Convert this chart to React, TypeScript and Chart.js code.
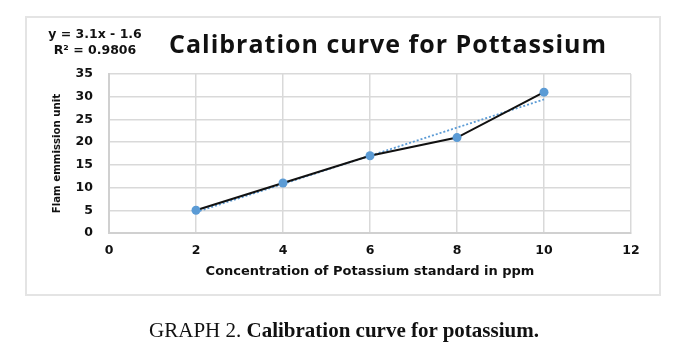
import React, { useEffect, useRef } from "react";
import { Chart, registerables } from "chart.js";

Chart.register(...registerables);

const concentrations = [2, 4, 6, 8, 10];
const emission = [5, 11, 17, 21, 31];
const trendSlope = 3.1;
const trendIntercept = -1.6;
const trendRange = [2, 10];
const xTicks = { min: 0, max: 12, step: 2 };
const yTicks = { min: 0, max: 35, step: 5 };

const chartTitle = "Calibration curve for Pottassium";
const equationText = "y = 3.1x - 1.6";
const r2Text = "R² = 0.9806";
const xTitle = "Concentration of Potassium standard in ppm";
const yTitle = "Flam emmission unit";

const TICK_FONT = "'DejaVu Sans', Verdana, sans-serif";

export default function App() {
  const ref = useRef<HTMLCanvasElement | null>(null);

  useEffect(() => {
    if (!ref.current) return;
    const points = concentrations.map((x, i) => ({ x, y: emission[i] }));
    const trend = trendRange.map((x) => ({ x, y: trendSlope * x + trendIntercept }));
    const chart = new Chart(ref.current, {
      type: "scatter",
      data: {
        datasets: [
          {
            data: points,
            showLine: true,
            borderColor: "#111111",
            borderWidth: 2,
            pointBackgroundColor: "#5b9bd5",
            pointBorderColor: "#5b9bd5",
            pointRadius: 4.5,
            pointBorderWidth: 0,
          },
          {
            data: trend,
            showLine: true,
            borderColor: "#5b9bd5",
            borderWidth: 1.8,
            borderDash: [2, 2],
            pointRadius: 0,
          },
        ],
      },
      options: {
        responsive: false,
        animation: false,
        layout: { padding: { left: 0, top: 74, right: 57, bottom: 73 } },
        plugins: { legend: { display: false }, tooltip: { enabled: false } },
        scales: {
          x: {
            type: "linear",
            min: xTicks.min,
            max: xTicks.max,
            afterFit: (s: any) => {
              s.height = 57;
            },
            ticks: {
              stepSize: xTicks.step,
              padding: 10,
              color: "#111",
              font: { family: TICK_FONT, size: 12.5, weight: "bold" },
            },
            grid: { color: "#d9d9d9", lineWidth: 1.5, drawTicks: false },
            border: { color: "#d0d0d0", width: 2 },
            title: {
              display: true,
              text: xTitle,
              color: "#111",
              padding: { top: 0, bottom: 11 },
              font: { family: TICK_FONT, size: 13, weight: "bold" },
            },
          },
          y: {
            type: "linear",
            min: yTicks.min,
            max: yTicks.max,
            afterFit: (s: any) => {
              s.width = 109;
            },
            ticks: {
              stepSize: yTicks.step,
              padding: 16,
              color: "#111",
              font: { family: TICK_FONT, size: 12.5, weight: "bold" },
            },
            grid: { color: "#d9d9d9", lineWidth: 1.5, drawTicks: false },
            border: { color: "#d0d0d0", width: 2 },
            title: {
              display: true,
              text: yTitle,
              color: "#111",
              padding: { top: 51, bottom: 0 },
              font: { family: TICK_FONT, size: 10.2, weight: "bold" },
            },
          },
        },
      },
    });
    return () => chart.destroy();
  }, []);

  return (
    <div
      style={{
        position: "fixed",
        left: 0,
        top: 0,
        width: 688,
        height: 363,
        background: "#fff",
        overflow: "hidden",
      }}
    >
      <div
        style={{
          position: "absolute",
          left: 25,
          top: 16,
          width: 632,
          height: 276,
          border: "2px solid #e4e4e4",
          boxSizing: "content-box",
        }}
      />
      <canvas
        ref={ref}
        width={688}
        height={363}
        style={{ position: "absolute", left: 0, top: 0, width: 688, height: 363 }}
      />
      <div
        style={{
          position: "absolute",
          left: 30,
          top: 26,
          width: 130,
          textAlign: "center",
          fontFamily: TICK_FONT,
          fontWeight: "bold",
          fontSize: 12.5,
          lineHeight: "16px",
          color: "#111",
        }}
      >
        <div>{equationText}</div>
        <div>{r2Text}</div>
      </div>
      <div
        style={{
          position: "absolute",
          left: 100,
          top: 26,
          width: 576,
          textAlign: "center",
          fontFamily: "'Open Sans', Lato, sans-serif",
          fontWeight: "bold",
          fontSize: 25,
          letterSpacing: 1,
          lineHeight: "34px",
          color: "#111",
        }}
      >
        {chartTitle}
      </div>
      <div
        style={{
          position: "absolute",
          left: 0,
          top: 318,
          width: 688,
          textAlign: "center",
          fontFamily: "'Liberation Serif', 'Times New Roman', serif",
          fontSize: 21,
          lineHeight: "24px",
          color: "#111",
        }}
      >
        GRAPH 2. <b>Calibration curve for potassium.</b>
      </div>
    </div>
  );
}
